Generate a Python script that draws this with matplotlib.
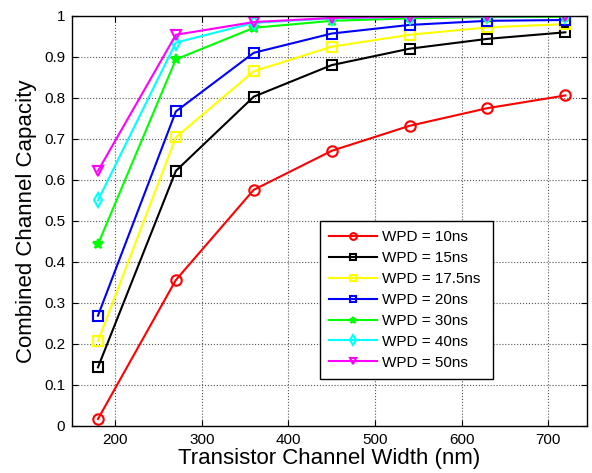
import matplotlib
matplotlib.use('Agg')
import matplotlib.pyplot as plt

plt.rcParams['font.family'] = ['Liberation Sans', 'DejaVu Sans']

# channel widths (nm)
width_nm = [180, 270, 360, 450, 540, 630, 720]

cap_10 = [0.017, 0.356, 0.576, 0.671, 0.732, 0.775, 0.806]
cap_15 = [0.143, 0.622, 0.803, 0.880, 0.920, 0.944, 0.960]
cap_175 = [0.207, 0.704, 0.865, 0.925, 0.954, 0.972, 0.980]
cap_20 = [0.269, 0.767, 0.910, 0.957, 0.978, 0.988, 0.990]
cap_30 = [0.443, 0.894, 0.971, 0.988, 0.994, 0.997, 0.998]
cap_40 = [0.550, 0.935, 0.983, 0.994, 0.998, 0.999, 1.000]
cap_50 = [0.622, 0.954, 0.985, 0.995, 0.998, 0.999, 1.000]

labels = ['WPD = 10ns', 'WPD = 15ns', 'WPD = 17.5ns', 'WPD = 20ns',
          'WPD = 30ns', 'WPD = 40ns', 'WPD = 50ns']
series = [cap_10, cap_15, cap_175, cap_20, cap_30, cap_40, cap_50]
colors = ['#ff0000', '#000000', '#ffff00', '#0000ff', '#00ff00', '#00ffff', '#ff00ff']
markers = ['o', 's', 's', 's', '*', 'd', 'v']

fig = plt.figure(figsize=(5.92, 4.73), dpi=100)
ax = fig.add_axes([0.1216, 0.0994, 0.870, 0.867])

for ys, lab, c, m in zip(series, labels, colors, markers):
    ms = 7.5 if m != '*' else 7
    ax.plot(width_nm, ys, color=c, lw=1.5, marker=m, markersize=ms,
            markerfacecolor='none' if m != '*' else c, markeredgecolor=c,
            markeredgewidth=1.5, label=lab)

ax.set_xlim(150, 745)
ax.set_ylim(0, 1)
ax.set_xticks([200, 300, 400, 500, 600, 700])
ax.set_yticks([i / 10 for i in range(11)])
ax.set_yticklabels(['0', '0.1', '0.2', '0.3', '0.4', '0.5', '0.6', '0.7', '0.8', '0.9', '1'])
ax.tick_params(direction='in', labelsize=11, length=4, top=True, right=True, pad=5)
ax.grid(True, linestyle=':', color='#555555', linewidth=0.8)
for s in ax.spines.values():
    s.set_linewidth(1.0)

ax.set_xlabel('Transistor Channel Width (nm)', fontsize=16, labelpad=1)
ax.set_ylabel('Combined Channel Capacity', fontsize=16, labelpad=5)

leg = ax.legend(loc='lower left', bbox_to_anchor=(0.482, 0.115, 0.336, 0.397),
                mode='expand', fontsize=11, markerscale=0.65, fancybox=False,
                framealpha=1, edgecolor='black', borderpad=0.6,
                labelspacing=0.45, handlelength=3.1, handletextpad=0.35,
                borderaxespad=0)
leg.get_frame().set_linewidth(1.0)

fig.savefig('out.png', dpi=100)
